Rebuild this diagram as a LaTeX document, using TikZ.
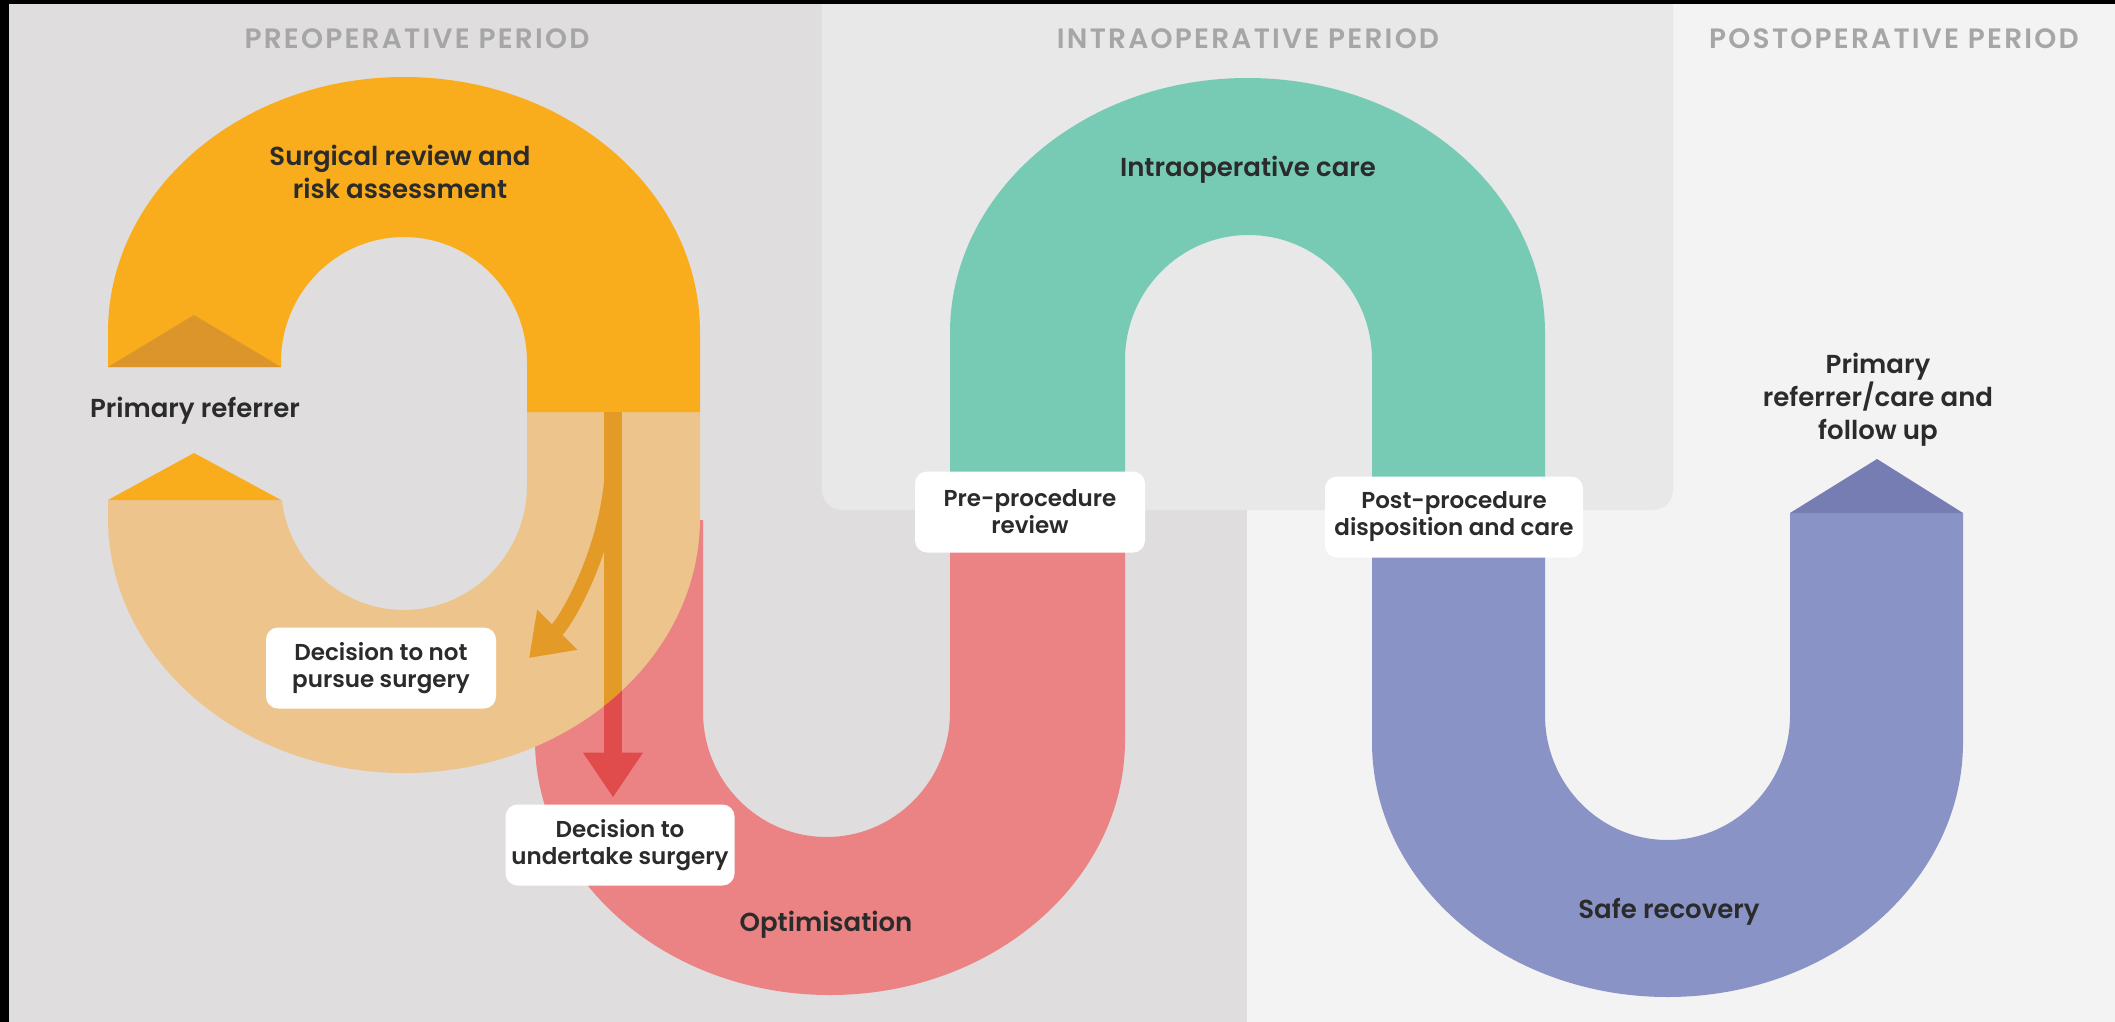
\documentclass[tikz,border=0pt]{standalone}
\usepackage{fontspec}
\setmainfont{Poppins}[BoldFont={Poppins SemiBold}]
\newfontfamily\periodfont{Poppins SemiBold}[LetterSpace=8]
\usetikzlibrary{arrows.meta}

\definecolor{precolor}{HTML}{DFDDDD}
\definecolor{intracolor}{HTML}{E8E8E8}
\definecolor{postcolor}{HTML}{F3F3F3}
\definecolor{reviewcolor}{HTML}{F9AD1D}
\definecolor{notchcolor}{HTML}{DC952B}
\definecolor{referrercolor}{HTML}{EDC58C}
\definecolor{optimcolor}{HTML}{EB8385}
\definecolor{carecolor}{HTML}{77CBB4}
\definecolor{recovercolor}{HTML}{8A93C6}
\definecolor{followcolor}{HTML}{767DB2}
\definecolor{decidecolor}{HTML}{E04B4B}
\definecolor{declinecolor}{HTML}{E39A27}
\definecolor{headcolor}{HTML}{A6A6A6}
\definecolor{labelcolor}{HTML}{2B2B2B}

\newcommand{\outb}{255}
\newcommand{\inb}{125}

\tikzset{
  period/.style={font=\periodfont\fontsize{14}{16}\selectfont, text=headcolor},
  bandlabel/.style={font=\bfseries\fontsize{13}{16.5}\selectfont, text=labelcolor, align=center},
  tag/.style={fill=white, rounded corners=6pt, inner sep=0pt, outer sep=0pt, minimum height=40.5pt,
    align=center, font=\bfseries\fontsize{11.5}{13.5}\selectfont, text=labelcolor},
  flow/.style={line width=9pt, -{Triangle[width=28.5pt,length=22.5pt]}},
  branch/.style={line width=7.5pt, declinecolor, -{Triangle[width=27pt,length=20pt]}}
}

\begin{document}
\begin{tikzpicture}[x=0.5pt, y=-0.5pt]
    \useasboundingbox (0,0) rectangle (2115,1022);
    \clip (0,0) rectangle (2115,1022);

    % periods
    \fill[black] (0,0) rectangle (2115,1022);
    \fill[precolor] (9,4) rectangle (2115,1022);
    \fill[postcolor] (1247,4) rectangle (2115,1022);
    \fill[intracolor, rounded corners=10pt] (822,-40) rectangle (1673,510);
    \fill[black] (0,0) rectangle (2115,4);
    \node[period] (pre) at (417,39) {PREOPERATIVE PERIOD};
    \node[period] (intra) at (1248,39) {INTRAOPERATIVE PERIOD};
    \node[period] (post) at (1894,39) {POSTOPERATIVE PERIOD};

    % optimisation
    \fill[optimcolor] (535,520) -- (535,740) arc[start angle=180, end angle=0, x radius=295, y radius=\outb]
        -- (1125,516) -- (950,516) -- (950,712) arc[start angle=0, end angle=180, x radius=123.5, y radius=\inb] -- (703,520) -- cycle;

    % intraoperative care
    \fill[carecolor] (950,516) -- (950,333) arc[start angle=180, end angle=360, x radius=297.5, y radius=\outb]
        -- (1545,516) -- (1372,516) -- (1372,360) arc[start angle=0, end angle=-180, x radius=123.5, y radius=\inb] -- (1125,516) -- cycle;

    % safe recovery
    \fill[recovercolor] (1372,516) -- (1372,742) arc[start angle=180, end angle=0, x radius=295.5, y radius=\outb]
        -- (1963,513) -- (1790,513) -- (1790,715) arc[start angle=0, end angle=180, x radius=122.5, y radius=\inb] -- (1545,516) -- cycle;
    \fill[followcolor] (1790,513) -- (1963,513) -- (1877,459) -- cycle;

    % referrer loop
    \fill[referrercolor] (700,412) -- (700,518) arc[start angle=0, end angle=180, x radius=296, y radius=\outb]
        -- (108,500) -- (281.9,500) arc[start angle=173.1, end angle=0, x radius=123, y radius=\inb] -- (527,412) -- cycle;
    \fill[reviewcolor] (108,367) -- (108,332) arc[start angle=180, end angle=360, x radius=296, y radius=\outb]
        -- (700,412) -- (527,412) -- (527,362) arc[start angle=0, end angle=-180, x radius=123, y radius=\inb] -- (281,367) -- cycle;
    \fill[notchcolor] (108,367) -- (281,367) -- (194,315) -- cycle;
    \fill[reviewcolor] (108,500) -- (281,500) -- (194,453) -- cycle;

    % labels
    \node[bandlabel] (review) at (400,172) {Surgical review and\\risk assessment};
    \node[bandlabel] (referrer) at (195,411) {Primary referrer};
    \node[bandlabel] (care) at (1248,170) {Intraoperative care};
    \node[bandlabel] (optim) at (826,925) {Optimisation};
    \node[bandlabel] (recovery) at (1669,912) {Safe recovery};
    \node[bandlabel] (follow) at (1878,400) {Primary\\referrer/care and\\follow up};
    \node[tag, minimum width=115pt] (preproc) at (1030,512) {Pre-procedure\\review};
    \node[tag, minimum width=129pt] (postproc) at (1454,517) {Post-procedure\\disposition and care};
    \node[tag, minimum width=115pt] (notpursue) at (381,668) {Decision to not\\pursue surgery};
    \node[tag, minimum width=114.5pt] (undertake) at (620,845) {Decision to\\undertake surgery};

    % arrows
    \coordinate (split) at (613,412);
    \coordinate (fork) at (613,455);
    \coordinate (npTip) at (529,658);
    \draw[flow, decidecolor, shorten >=3.5pt] (split) -- (undertake.north -| split);
    \begin{scope}
        \clip (108,332) arc[start angle=180, end angle=360, x radius=296, y radius=\outb] -- (700,518)
            arc[start angle=0, end angle=180, x radius=296, y radius=\outb] -- cycle;
        \draw[flow, declinecolor, shorten >=3.5pt] (split) -- (undertake.north -| split);
    \end{scope}
    \draw[branch] (fork) .. controls (613,540) and (569,618) .. (npTip);
\end{tikzpicture}
\end{document}
